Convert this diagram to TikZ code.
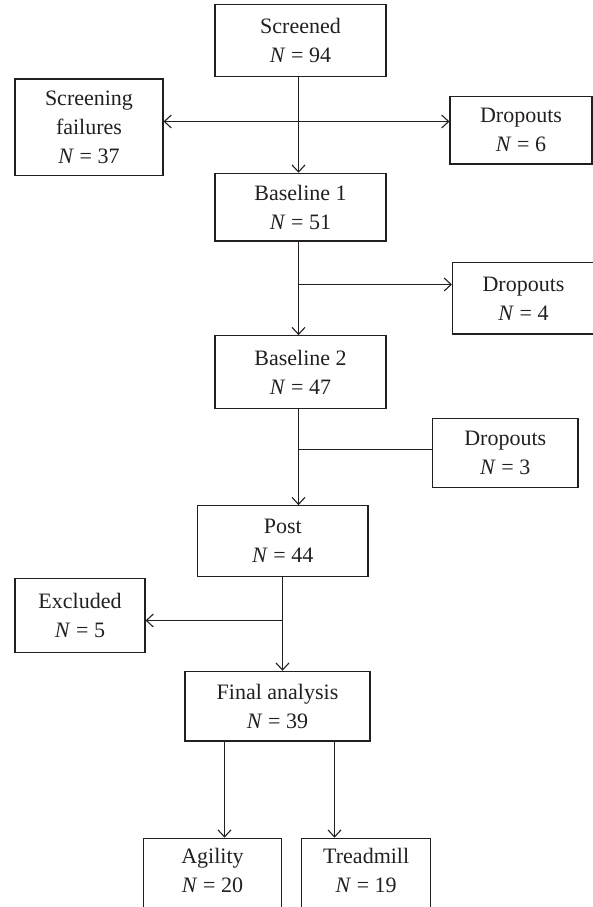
\documentclass[tikz,border=0pt]{standalone}
\usepackage{fontspec}
\setmainfont{Liberation Serif}
\usetikzlibrary{arrows.meta,calc}
\definecolor{ink}{RGB}{35,31,32}
\begin{document}
\begin{tikzpicture}[x=1pt,y=-1pt,
  box/.style={draw=ink,line width=1.1pt,rectangle,inner sep=0pt,align=center,
    text=ink,font=\fontsize{22}{29}\selectfont},
  openbox/.style={box,anchor=north,text height=44pt,text depth=80pt,inner ysep=10pt},
  conn/.style={draw=ink,line width=1.1pt},
  arr/.style={conn,-{Straight Barb[length=7pt,width=13pt]}},
  dbl/.style={conn,{Straight Barb[length=7pt,width=13pt]}-{Straight Barb[length=7pt,width=13pt]}}]
\useasboundingbox (0,0) rectangle (593,907);
\clip (0,0) rectangle (593,907);

\node[box,minimum width=171pt,minimum height=72pt] (screened) at (300.5,40.5) {Screened\\\textit{N} = 94};
\node[box,minimum width=148pt,minimum height=96.7pt] (fail) at (89,127.35) {Screening\\failures\\\textit{N} = 37};
\node[box,minimum width=142pt,minimum height=67.3pt] (drop6) at (521,130.35) {Dropouts\\\textit{N} = 6};
\node[box,minimum width=171pt,minimum height=67.7pt] (base1) at (300.5,207.15) {Baseline 1\\\textit{N} = 51};
\node[box,minimum width=142pt,minimum height=71.3pt] (drop4) at (523.5,298.35) {Dropouts\\\textit{N} = 4};
\node[box,minimum width=171pt,minimum height=72.6pt] (base2) at (300.5,372) {Baseline 2\\\textit{N} = 47};
\node[box,minimum width=145.5pt,minimum height=68.6pt] (drop3) at (505.25,453) {Dropouts\\\textit{N} = 3};
\node[box,minimum width=170.5pt,minimum height=70.6pt] (post) at (282.75,541) {Post\\\textit{N} = 44};
\node[box,minimum width=130pt,minimum height=73.6pt] (excl) at (80,615.5) {Excluded\\\textit{N} = 5};
\node[box,minimum width=185pt,minimum height=69.7pt] (final) at (277.5,706.15) {Final analysis\\\textit{N} = 39};
\node[openbox,minimum width=138.4pt] (agility) at (212.5,837.7) {Agility\\\textit{N} = 20};
\node[openbox,minimum width=129pt] (treadmill) at (366.2,837.7) {Treadmill\\\textit{N} = 19};

\coordinate (trunk) at (298.5,0);
\coordinate (t2) at (282.5,0);
\coordinate (a1) at (224.5,0);
\coordinate (a2) at (334.5,0);
\coordinate (h1) at (0,121.5);
\coordinate (h2) at (0,284.5);
\coordinate (h3) at (0,449.5);
\coordinate (h4) at (0,620.5);

\draw[arr] (screened.south -| trunk) -- (base1.north -| trunk);
\draw[dbl] (fail.east |- h1) -- (drop6.west |- h1);
\draw[arr] (base1.south -| trunk) -- (base2.north -| trunk);
\draw[arr] (trunk |- h2) -- (drop4.west |- h2);
\draw[arr] (base2.south -| trunk) -- (post.north -| trunk);
\draw[conn] (trunk |- h3) -- (drop3.west |- h3);
\draw[arr] (post.south -| t2) -- (final.north -| t2);
\draw[arr] (t2 |- h4) -- (excl.east |- h4);
\draw[arr] (final.south -| a1) -- (agility.north -| a1);
\draw[arr] (final.south -| a2) -- (treadmill.north -| a2);
\end{tikzpicture}
\end{document}
